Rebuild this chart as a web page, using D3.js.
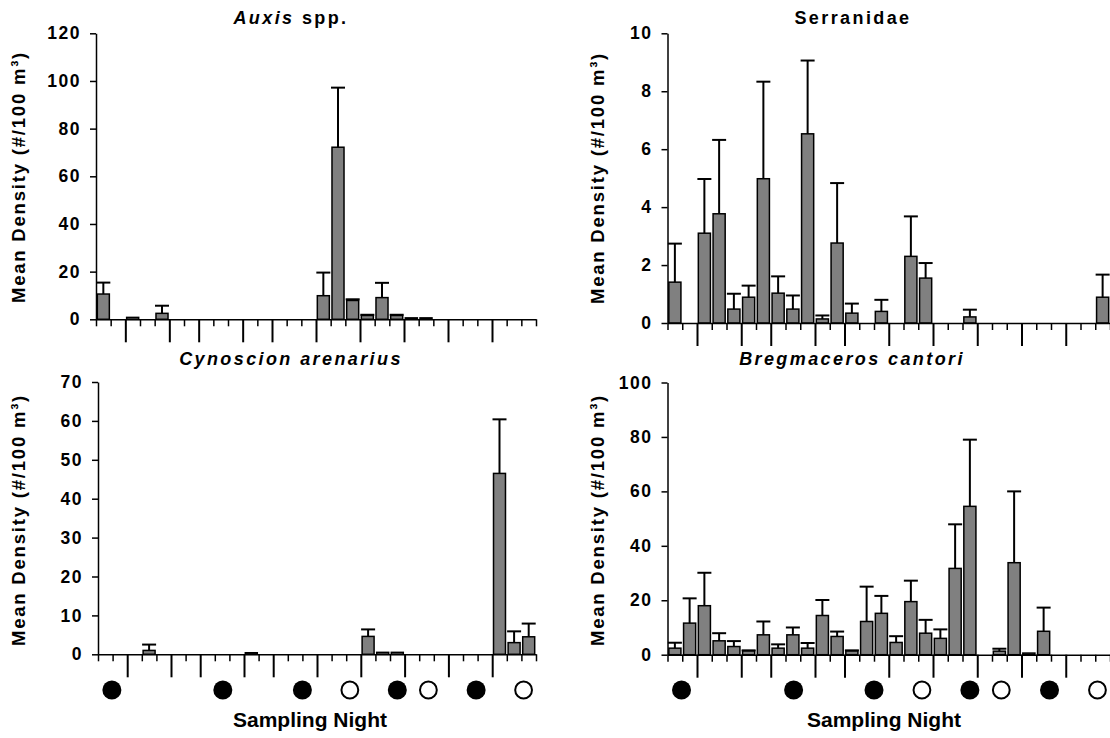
<!DOCTYPE html>
<html><head><meta charset="utf-8">
<script src="https://cdn.jsdelivr.net/npm/d3@7"></script>
<style>
body{margin:0;background:#fff}
svg{display:block}
text{font-family:"Liberation Sans",Arial,sans-serif;fill:#000}
</style>
</head><body>
<svg id="chart" width="1110" height="738"></svg>
<script>
// ---------- data ----------
const categories = d3.range(1, 31);                 // 30 sampling stations in sequence
const nightBreaks = [2, 5, 7, 10, 12, 15, 18, 21, 24, 27]; // long ticks = new sampling night
const moonPos   = [0.95, 8.55, 14.0, 17.25, 20.5, 22.63, 25.9, 29.15];
const moonPhase = ["new", "new", "new", "full", "new", "full", "new", "full"];

const auxisMean = [10.6,0,0.8,0,2.5,0,0,0,0,0,0,0,0,0,0,9.9,72.2,7.9,1.6,9.1,1.6,0.6,0.6,0,0,0,0,0,0,0];
const auxisSE   = [4.8,0,0,0,3.2,0,0,0,0,0,0,0,0,0,0,9.7,25.0,0.5,0.3,6.2,0.3,0,0,0,0,0,0,0,0,0];
const auxisTicks = [0,20,40,60,80,100,120];

const serrMean = [1.41,0,3.10,3.77,0.48,0.89,4.98,1.03,0.48,6.53,0.14,2.76,0.34,0,0.40,0,2.30,1.55,0,0,0.21,0,0,0,0,0,0,0,0,0.89];
const serrSE   = [1.33,0,1.87,2.55,0.53,0.40,3.35,0.58,0.47,2.53,0.12,2.07,0.33,0,0.40,0,1.38,0.52,0,0,0.25,0,0,0,0,0,0,0,0,0.78];
const serrTicks = [0,2,4,6,8,10];

const cynoMean = [0,0,0,1.0,0,0,0,0,0,0,0.4,0,0,0,0,0,0,0,4.6,0.5,0.5,0,0,0,0,0,0,46.5,3.0,4.5];
const cynoSE   = [0,0,0,1.5,0,0,0,0,0,0,0,0,0,0,0,0,0,0,1.8,0,0,0,0,0,0,0,0,13.9,2.9,3.4];
const cynoTicks = [0,10,20,30,40,50,60,70];

const bregMean = [2.4,11.6,18.0,5.1,3.0,1.4,7.3,2.4,7.3,2.4,14.4,6.7,1.4,12.2,15.2,4.5,19.5,7.9,6.0,31.7,54.5,0,1.3,33.8,0.6,8.6,0,0,0,0];
const bregSE   = [2.0,9.1,12.1,2.8,2.0,0.2,4.9,1.4,2.7,1.9,5.7,1.8,0.2,12.8,6.4,2.3,7.7,4.9,3.3,16.2,24.5,0,0.9,26.2,0,8.7,0,0,0,0];
const bregTicks = [0,20,40,60,80,100];

const yTitle = "Mean Density (#/100 m³)";
const xTitle = "Sampling Night";

// ---------- layout ----------
const panels = [
  {title:[["Auxis",true],[" spp.",false]], mean:auxisMean, se:auxisSE, ticks:auxisTicks,
   x0:96, x1:536, yB:319.3, yT:33.3, tx:291, ty:24, ytx:24, yc:177, moons:false},
  {title:[["Serranidae",false]], mean:serrMean, se:serrSE, ticks:serrTicks,
   x0:667.5, x1:1110, yB:323, yT:33.3, tx:853, ty:24, ytx:603, yc:178, moons:false},
  {title:[["Cynoscion arenarius",true]], mean:cynoMean, se:cynoSE, ticks:cynoTicks,
   x0:98, x1:536, yB:654.3, yT:382, tx:291, ty:365, ytx:24, yc:520, moons:true, sx:310},
  {title:[["Bregmaceros cantori",true]], mean:bregMean, se:bregSE, ticks:bregTicks,
   x0:667.5, x1:1110, yB:654.7, yT:382.5, tx:852, ty:365, ytx:603, yc:520, moons:true, sx:884}
];

const svg = d3.select("#chart");

panels.forEach(p => {
  const g = svg.append("g");
  const yMax = p.ticks[p.ticks.length - 1];
  const y = d3.scaleLinear().domain([0, yMax]).range([p.yB, p.yT]);
  const xb = d3.scaleBand().domain(categories).range([p.x0, p.x1]).paddingInner(0.18).paddingOuter(0.09);
  const xl = d3.scaleLinear().domain([0, categories.length]).range([p.x0, p.x1]);
  const rows = categories.map((c, i) => ({c, m: p.mean[i], s: p.se[i]}));

  // bars
  g.selectAll("rect.bar").data(rows.filter(d => d.m > 0)).join("rect")
    .attr("x", d => xb(d.c)).attr("width", xb.bandwidth())
    .attr("y", d => y(d.m)).attr("height", d => p.yB - y(d.m))
    .attr("fill", "#808080").attr("stroke", "#000").attr("stroke-width", 1.5);

  // error bars
  const eb = rows.filter(d => d.s > 0);
  const cx = d => xb(d.c) + xb.bandwidth() / 2;
  g.selectAll("line.ev").data(eb).join("line")
    .attr("x1", cx).attr("x2", cx).attr("y1", d => y(d.m)).attr("y2", d => y(d.m + d.s))
    .attr("stroke", "#000").attr("stroke-width", 2);
  g.selectAll("line.ec").data(eb).join("line")
    .attr("x1", d => cx(d) - 7).attr("x2", d => cx(d) + 7)
    .attr("y1", d => y(d.m + d.s)).attr("y2", d => y(d.m + d.s))
    .attr("stroke", "#000").attr("stroke-width", 2);

  // y axis
  const ya = g.append("g").attr("transform", `translate(${p.x0},0)`)
    .call(d3.axisLeft(y).tickValues(p.ticks).tickSize(6).tickSizeOuter(0).tickPadding(9).tickFormat(d3.format("d")));
  ya.select(".domain").attr("stroke-width", 1.5);
  ya.selectAll(".tick line").attr("stroke-width", 1.5);
  ya.selectAll(".tick text").attr("font-size", 17.5).attr("font-weight", "bold")
    .attr("letter-spacing", "1.5px").attr("font-family", "'Liberation Sans',Arial,sans-serif").attr("fill", "#000");

  // x axis with night separators
  const xa = g.append("g").attr("transform", `translate(0,${p.yB})`)
    .call(d3.axisBottom(xl).tickValues(d3.range(0, categories.length + 1)).tickSize(7).tickSizeOuter(0).tickFormat(""));
  xa.select(".domain").attr("stroke-width", 1.6);
  xa.selectAll(".tick line").attr("stroke-width", 1.5)
    .filter(d => nightBreaks.includes(d)).attr("y2", 23).attr("stroke-width", 2);

  // panel title
  const t = g.append("text").attr("x", p.tx).attr("y", p.ty).attr("text-anchor", "middle")
    .attr("font-size", 18).attr("font-weight", "bold").attr("letter-spacing", "2.4px");
  p.title.forEach(([s, it]) => t.append("tspan").text(s).attr("font-style", it ? "italic" : "normal"));

  // y title
  g.append("text").attr("transform", `translate(${p.ytx + 1},${p.yc}) rotate(-90)`)
    .attr("text-anchor", "middle").attr("font-size", 18.5).attr("font-weight", "bold")
    .attr("letter-spacing", "1.8px").text(yTitle);

  if (p.moons) {
    const moons = moonPos.map((v, i) => ({v, ph: moonPhase[i]}));
    g.selectAll("circle.moon").data(moons).join("circle")
      .attr("cx", d => xl(d.v)).attr("cy", 690)
      .attr("r", d => d.ph === "new" ? 9.5 : 8.4)
      .attr("fill", d => d.ph === "new" ? "#000" : "#fff")
      .attr("stroke", "#000").attr("stroke-width", d => d.ph === "new" ? 0 : 2);
    g.append("text").attr("x", p.sx).attr("y", 727).attr("text-anchor", "middle")
      .attr("font-size", 21).attr("font-weight", "bold").text(xTitle);
  }
});
</script>
</body></html>
